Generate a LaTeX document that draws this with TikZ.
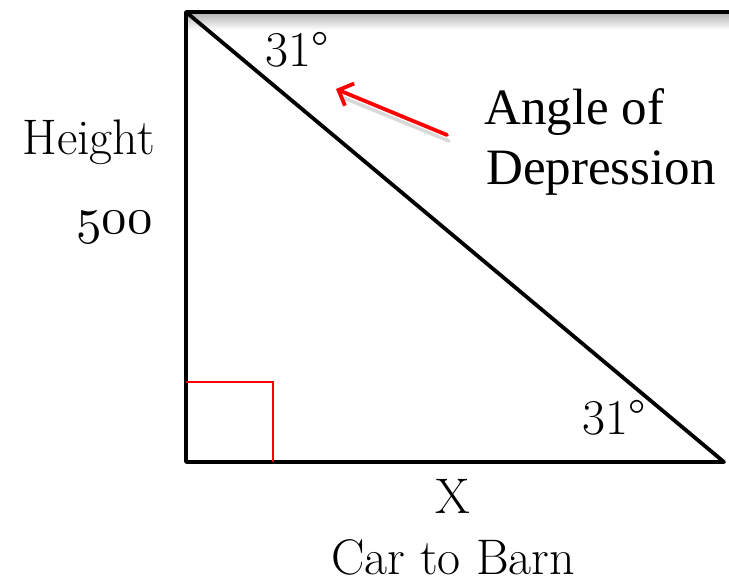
\documentclass[tikz,border=0pt]{standalone}
\usepackage{fontspec}
\newfontfamily\timesf{Liberation Serif}
\usetikzlibrary{fadings,arrows.meta}
\begin{document}
\begin{tikzpicture}[x=1pt,y=-1pt,
  lbl/.style={inner sep=0pt,font=\fontsize{50}{55}\selectfont},
  tlbl/.style={inner sep=0pt,font=\timesf\fontsize{51}{56}\selectfont},
  side/.style={line width=3.8pt,line cap=round,line join=round},
  redbox/.style={red,line width=1.4pt},
  redarrow/.style={red,line width=3.8pt,line cap=round,-{Straight Barb[length=12pt,width=24pt,line width=3.8pt]}}]
\useasboundingbox (0,0) rectangle (729,585);
% shadow of top line
\fill[black!30,path fading=south] (186,13) rectangle (729,30);
\coordinate (tl) at (186,12);
\coordinate (bl) at (186,462);
\coordinate (br) at (724,462);
\coordinate (tr) at (732,12);
\draw[side] (tr) -- (tl) -- (bl) -- (br) -- (tl);
% right angle marker
\coordinate (r1) at (186,382);
\coordinate (r2) at (273,382);
\coordinate (r3) at (273,462);
\draw[redbox] (r1) -- (r2) -- (r3);
% arrow
\coordinate (as) at (447,135);
\coordinate (ae) at (336,89);
\draw[black!15,line width=3.5pt,line cap=round] (449,141) -- (344,98);
\draw[redarrow] (as) -- (ae);
% labels
\node[lbl,anchor=base] (a1) at (297,67) {31°};
\node[lbl,anchor=base] (a2) at (614,435) {31°};
\node[tlbl,anchor=base west] (ang1) at (484,125) {Angle of};
\node[tlbl,anchor=base west] (ang2) at (486,185) {Depression};
\node[lbl,anchor=base east] (h) at (155,155) {Height};
\node[inner sep=0pt,anchor=base east] (h5) at (153,234) {\scalebox{5.1}{\fontencoding{OML}\fontfamily{cmm}\fontseries{m}\fontshape{it}\fontsize{10}{12}\selectfont 500}};
\node[lbl,anchor=base] (x) at (453,514) {X};
\node[lbl,anchor=base] (cb) at (453,574) {Car to Barn};
\end{tikzpicture}
\end{document}
